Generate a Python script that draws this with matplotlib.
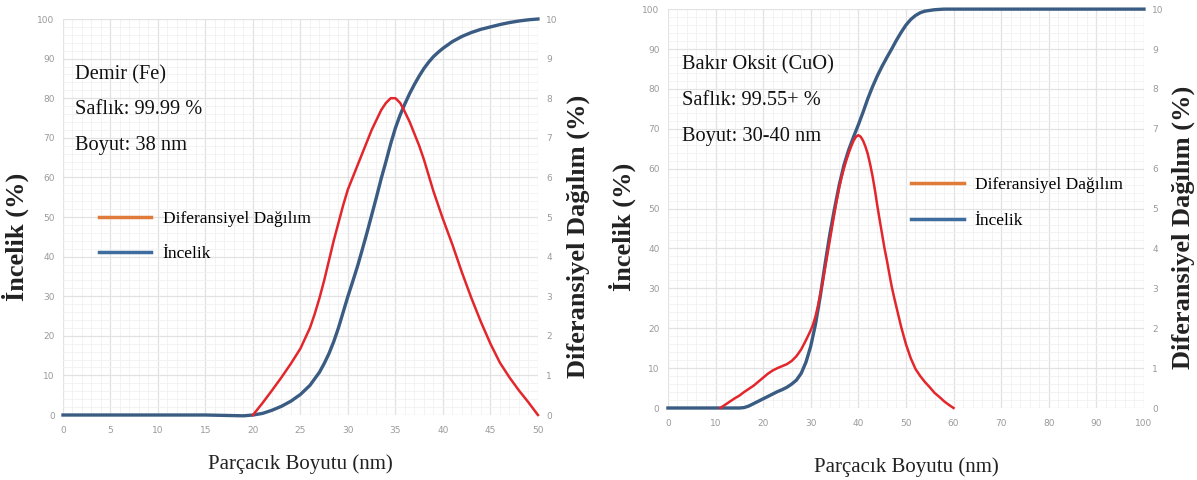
import matplotlib
matplotlib.use("Agg")
import matplotlib.pyplot as plt
from matplotlib.lines import Line2D
from matplotlib.ticker import MultipleLocator
from matplotlib import font_manager

# ---------------- data ----------------
# Left chart: Demir (Fe)
fe_x_cum = [0, 5, 10, 15, 17, 19, 20, 21, 22, 23, 24, 25, 26, 27, 27.5, 28, 28.5, 29, 29.5, 30,
            30.5, 31, 31.5, 32, 32.5, 33, 33.5, 34, 34.5, 35, 35.5, 36, 36.5, 37, 37.5, 38, 38.5,
            39, 39.5, 40, 41, 42, 43, 44, 45, 46, 47, 48, 49, 50]
fe_cum = [0, 0, 0, 0, -0.1, -0.2, 0, 0.4, 1.2, 2.2, 3.5, 5.2, 7.5, 10.8, 13, 15.5, 18.5, 22, 26, 30,
          33.7, 37.5, 41.7, 46, 50.5, 55, 59.7, 64, 68.5, 72.5, 75.8, 78.6, 81.2, 83.5, 85.6, 87.5,
          89.1, 90.5, 91.6, 92.6, 94.3, 95.6, 96.6, 97.4, 98, 98.6, 99.1, 99.5, 99.8, 100]
fe_x_diff = [20, 21, 22, 23, 24, 25, 26, 26.5, 27, 27.5, 28, 28.5, 29, 29.5, 30, 30.5, 31, 31.5, 32,
             32.5, 33, 33.5, 34, 34.5, 35, 35.5, 36, 36.5, 37, 37.5, 38, 38.5, 39, 39.5, 40, 41,
             42, 43, 44, 45, 46, 47, 48, 49, 50]
fe_diff = [0, 0.3, 0.62, 0.95, 1.3, 1.68, 2.2, 2.55, 2.95, 3.4, 3.9, 4.4, 4.85, 5.3, 5.7, 6.0, 6.3,
           6.6, 6.9, 7.2, 7.45, 7.7, 7.88, 8.0, 8.0, 7.88, 7.65, 7.4, 7.1, 6.8, 6.45, 6.05, 5.65,
           5.3, 4.95, 4.3, 3.6, 2.95, 2.35, 1.8, 1.32, 0.95, 0.62, 0.32, 0]

# Right chart: Bakır Oksit (CuO)
cuo_x_cum = [0, 5, 10, 15, 16, 17, 18, 19, 20, 21, 22, 23, 24, 25, 26, 27, 28, 29, 30, 31, 32, 33,
             34, 35, 36, 37, 38, 39, 40, 41, 42, 43, 44, 45, 46, 47, 48, 49, 50, 51, 52, 53, 54,
             56, 58, 60, 70, 80, 90, 100]
cuo_cum = [0, 0, 0, 0, 0.1, 0.5, 1.1, 1.7, 2.3, 2.9, 3.5, 4.1, 4.6, 5.2, 6.0, 7.0, 8.7, 11.5, 15.5,
           21, 28, 36, 43.5, 50, 56, 61, 64.8, 68, 71, 74.2, 77.6, 80.6, 83.3, 85.7, 87.9,
           90, 92.2, 94.2, 96, 97.4, 98.4, 99.1, 99.5, 99.85, 100, 100, 100, 100, 100, 100]
cuo_x_diff = [11, 12, 13, 14, 15, 16, 17, 18, 19, 20, 21, 22, 23, 24, 25, 26, 27, 28, 29, 30, 30.5,
              31, 31.5, 32, 32.5, 33, 33.5, 34, 34.5, 35, 35.5, 36, 36.5, 37, 37.5, 38, 38.5, 39,
              39.5, 40, 40.5, 41, 41.5, 42, 42.5, 43, 43.5, 44, 44.5, 45, 45.5, 46, 46.5, 47,
              47.5, 48, 49, 50, 51, 52, 53, 54, 55, 56, 57, 58, 59, 60]
cuo_diff = [0, 0.08, 0.16, 0.24, 0.31, 0.4, 0.48, 0.56, 0.66, 0.76, 0.86, 0.94, 1.0, 1.05, 1.1,
            1.18, 1.3, 1.47, 1.7, 1.95, 2.1, 2.3, 2.55, 2.85, 3.15, 3.5, 3.85, 4.2, 4.55, 4.9,
            5.23, 5.54, 5.8, 6.02, 6.22, 6.4, 6.56, 6.7, 6.8, 6.84, 6.8, 6.7, 6.55, 6.36, 6.1,
            5.8, 5.45, 5.06, 4.7, 4.35, 4.0, 3.7, 3.37, 3.05, 2.78, 2.53, 2.03, 1.6, 1.25, 0.98,
            0.8, 0.65, 0.52, 0.38, 0.28, 0.17, 0.08, 0]

fe_texts = ["Demir (Fe)", "Saflık: 99.99 %", "Boyut: 38 nm"]
cuo_texts = ["Bakır Oksit (CuO)", "Saflık: 99.55+ %", "Boyut: 30-40 nm"]
legend_labels = ["Diferansiyel Dağılım", "İncelik"]

RED = "#e3262c"
BLUE = "#3a5b82"
LEG_ORANGE = "#e07b39"
LEG_BLUE = "#3f6c9e"
TICK_C = "#9a9a9a"
SERIF = ["Liberation Serif", "DejaVu Serif"]

installed = {f.name for f in font_manager.fontManager.ttflist}
TICK_FONT = "Liberation Sans Narrow" if "Liberation Sans Narrow" in installed else "DejaVu Sans"
TICK_SIZE = 7.5 if TICK_FONT == "Liberation Sans Narrow" else 6.5

fig = plt.figure(figsize=(11.97, 4.8), dpi=100)


def make_panel(rect, x_cum, cum, x_diff, diff, xmax, xmajor, xminor, texts, leg_pos,
               text_pos, ylab_pos, y2lab_pos, xpad):
    ax = fig.add_axes(rect)
    ax2 = ax.twinx()
    ax.set_xlim(0, xmax)
    ax.set_ylim(0, 100)
    ax2.set_ylim(0, 10)
    ax.xaxis.set_major_locator(MultipleLocator(xmajor))
    ax.xaxis.set_minor_locator(MultipleLocator(xminor))
    ax.yaxis.set_major_locator(MultipleLocator(10))
    ax.yaxis.set_minor_locator(MultipleLocator(2))
    ax2.yaxis.set_major_locator(MultipleLocator(1))
    ax.grid(which="major", color="#e2e2e2", lw=0.9)
    ax.grid(which="minor", color="#f1f1f1", lw=0.6)
    ax.set_axisbelow(True)
    for a in (ax, ax2):
        for s in a.spines.values():
            s.set_visible(False)
        a.tick_params(which="both", length=0, colors=TICK_C, labelsize=TICK_SIZE, pad=6)
        for lab in a.get_xticklabels() + a.get_yticklabels():
            lab.set_family(TICK_FONT)
    ax.tick_params(axis="x", pad=8)

    ax.plot(x_cum, cum, color=BLUE, lw=2.4, zorder=3, clip_on=False)
    ax2.plot(x_diff, diff, color=RED, lw=1.8, zorder=4, clip_on=False)

    ax.set_ylabel("İncelik (%)", family=SERIF, fontsize=19, fontweight="bold",
                  color="#222222")
    ax.yaxis.set_label_coords(*ylab_pos)
    ax2.set_ylabel("Diferansiyel Dağılım (%)", family=SERIF, fontsize=19,
                   fontweight="bold", color="#222222")
    ax2.yaxis.set_label_coords(*y2lab_pos)
    ax.set_xlabel("Parçacık Boyutu (nm)", family=SERIF, fontsize=15, color="#222222",
                  labelpad=xpad)

    tx, ty = text_pos
    for i, t in enumerate(texts):
        ax.text(tx, ty - i * 0.0895, t, transform=ax.transAxes, family=SERIF,
                fontsize=14.7, color="#111111", va="center", ha="left", zorder=5)

    handles = [Line2D([], [], color=LEG_ORANGE, lw=2.5),
               Line2D([], [], color=LEG_BLUE, lw=2.5)]
    ax2.legend(handles, legend_labels, loc="upper left", bbox_to_anchor=leg_pos,
               frameon=False, prop={"family": SERIF, "size": 12.5}, handlelength=3.0,
               handletextpad=0.65, labelspacing=1.1, borderaxespad=0)
    return ax


make_panel([0.0526, 0.1354, 0.3968, 0.825], fe_x_cum, fe_cum, fe_x_diff, fe_diff,
           50, 5, 1, fe_texts, (0.062, 0.533), (0.025, 0.86),
           (-0.072, 0.45), (1.061, 0.45), 14)
make_panel([0.558, 0.15, 0.3977, 0.831], cuo_x_cum, cuo_cum, cuo_x_diff, cuo_diff,
           100, 10, 2, cuo_texts, (0.497, 0.596), (0.03, 0.86),
           (-0.067, 0.454), (1.057, 0.454), 21)

fig.savefig("out.png", dpi=100, facecolor="white")
